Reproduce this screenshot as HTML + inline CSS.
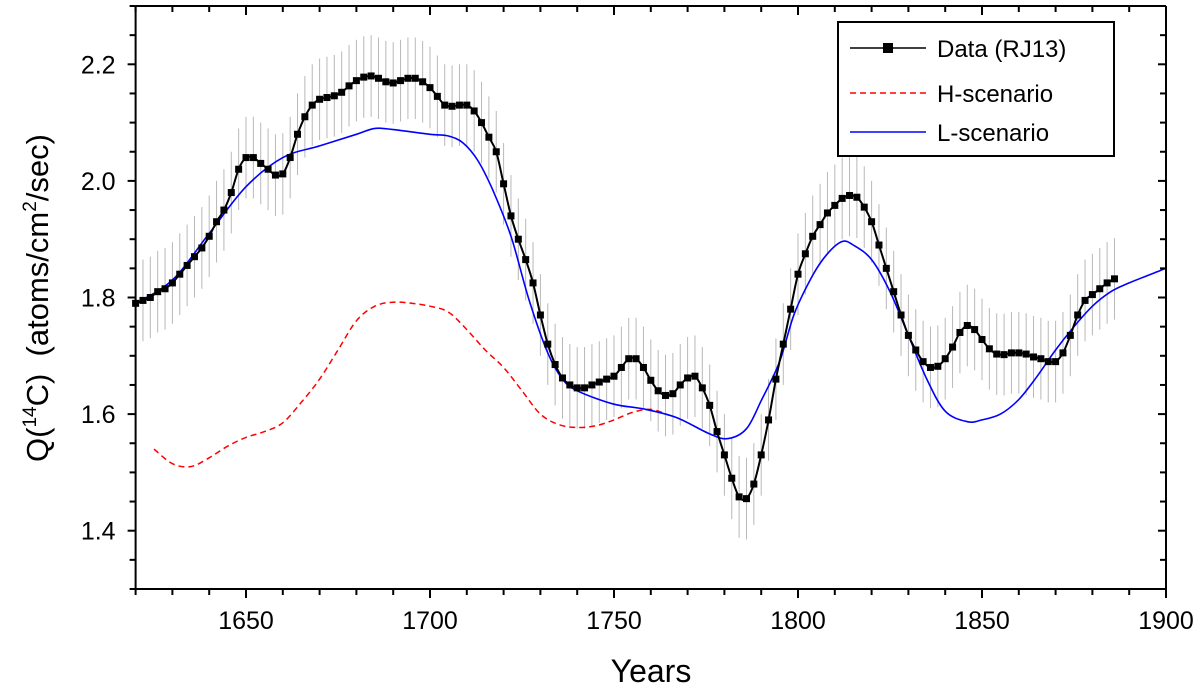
<!DOCTYPE html>
<html><head><meta charset="utf-8"><style>
html,body{margin:0;padding:0;background:#fff;}
svg{display:block;font-family:"Liberation Sans",Arial,sans-serif;}
</style></head><body>
<svg id="chart" width="1200" height="688" viewBox="0 0 1200 688" xmlns="http://www.w3.org/2000/svg">
<g id="plot"></g>
<text x="651" y="682" font-size="32" text-anchor="middle">Years</text>
<text xml:space="preserve" transform="translate(48,298) rotate(-90)" font-size="31" text-anchor="middle">Q(<tspan font-size="19" dy="-12">14</tspan><tspan dy="12">C)  (atoms/cm</tspan><tspan font-size="19" dy="-12">2</tspan><tspan dy="12">/sec)</tspan></text>
<g>
<rect x="838" y="22" width="276" height="134" fill="#fff" stroke="#000" stroke-width="2"/>
<g><line x1="850" y1="48" x2="926" y2="48" stroke="#000" stroke-width="1.5"/><rect x="883" y="43" width="10" height="10" fill="#000"/><text x="937" y="57" font-size="24">Data (RJ13)</text></g>
<g><line x1="850" y1="93" x2="926" y2="93" stroke="#f00" stroke-width="1.5" stroke-dasharray="6,4"/><text x="937" y="102" font-size="24">H-scenario</text></g>
<g><line x1="850" y1="132" x2="926" y2="132" stroke="#00f" stroke-width="1.5"/><text x="937" y="141" font-size="24">L-scenario</text></g>
</g>
</svg>
<script>
const dataStartYear = 1620;
const dataStep = 2;
const dataValues = [1.79,1.795,1.80,1.81,1.815,1.825,1.84,1.855,1.87,1.885,1.905,1.93,1.95,1.98,2.02,2.04,2.04,2.03,2.02,2.01,2.012,2.04,2.08,2.11,2.13,2.14,2.143,2.146,2.152,2.163,2.172,2.178,2.18,2.176,2.17,2.168,2.172,2.176,2.176,2.17,2.16,2.145,2.13,2.128,2.13,2.13,2.12,2.1,2.075,2.05,1.995,1.94,1.90,1.865,1.825,1.77,1.72,1.685,1.662,1.65,1.645,1.645,1.65,1.655,1.66,1.665,1.68,1.695,1.695,1.68,1.658,1.64,1.632,1.635,1.65,1.662,1.665,1.645,1.615,1.57,1.53,1.49,1.458,1.455,1.48,1.53,1.59,1.66,1.72,1.78,1.84,1.875,1.905,1.925,1.945,1.958,1.97,1.975,1.972,1.955,1.93,1.89,1.85,1.81,1.77,1.735,1.71,1.69,1.68,1.682,1.695,1.715,1.74,1.752,1.745,1.728,1.712,1.703,1.702,1.705,1.705,1.703,1.698,1.695,1.69,1.69,1.705,1.735,1.77,1.795,1.805,1.815,1.825,1.832];
const dataError = 0.07;
const lYears = [1620,1630,1640,1650,1660,1670,1680,1685,1690,1700,1705,1709,1713,1717,1722,1727,1732,1736,1740,1750,1758,1767,1776,1781,1786,1790,1795,1799,1804,1808,1812,1815,1820,1825,1830,1835,1840,1846,1850,1855,1860,1865,1870,1875,1880,1885,1890,1900];
const lValues = [1.79,1.83,1.91,1.99,2.04,2.06,2.08,2.09,2.088,2.08,2.077,2.065,2.035,1.985,1.905,1.794,1.705,1.66,1.64,1.617,1.609,1.594,1.566,1.558,1.575,1.623,1.69,1.772,1.838,1.875,1.896,1.89,1.865,1.81,1.735,1.66,1.605,1.587,1.59,1.60,1.625,1.665,1.71,1.75,1.785,1.81,1.825,1.85];
const hYears = [1625,1630,1635,1640,1645,1650,1655,1660,1665,1670,1675,1680,1685,1690,1695,1700,1705,1710,1715,1720,1725,1730,1735,1740,1745,1750,1755,1760,1765];
const hValues = [1.54,1.515,1.51,1.525,1.545,1.56,1.57,1.585,1.62,1.66,1.71,1.76,1.785,1.792,1.79,1.785,1.775,1.745,1.71,1.68,1.64,1.6,1.582,1.577,1.58,1.59,1.603,1.608,1.598];
const xTicks = [1650,1700,1750,1800,1850,1900];
const yTicks = [1.4,1.6,1.8,2.0,2.2];

const X0=135.6,X1=1166,XMIN=1620,XMAX=1900,Y0=589,Y1=6,YMIN=1.3,YMAX=2.3;
const sx=v=>X0+(v-XMIN)/(XMAX-XMIN)*(X1-X0);
const sy=v=>Y0-(v-YMIN)/(YMAX-YMIN)*(Y0-Y1);
const NS='http://www.w3.org/2000/svg';
const plot=document.getElementById('plot');
function mk(tag,attrs,parent){const e=document.createElementNS(NS,tag);for(const k in attrs)e.setAttribute(k,attrs[k]);(parent||plot).appendChild(e);return e;}
function smooth(pts){let d='M'+pts[0][0].toFixed(1)+','+pts[0][1].toFixed(1);
 for(let i=0;i<pts.length-1;i++){const p0=pts[Math.max(i-1,0)],p1=pts[i],p2=pts[i+1],p3=pts[Math.min(i+2,pts.length-1)];
 const c1=[p1[0]+(p2[0]-p0[0])/6,p1[1]+(p2[1]-p0[1])/6],c2=[p2[0]-(p3[0]-p1[0])/6,p2[1]-(p3[1]-p1[1])/6];
 d+='C'+c1[0].toFixed(1)+','+c1[1].toFixed(1)+' '+c2[0].toFixed(1)+','+c2[1].toFixed(1)+' '+p2[0].toFixed(1)+','+p2[1].toFixed(1);}return d;}

const eg=mk('g',{});


dataValues.forEach((v,i)=>{const x=sx(dataStartYear+i*dataStep);
 const l=mk('line',{x1:x,x2:x,y1:sy(v+dataError),y2:sy(v-dataError),stroke:'#b8b8b8','stroke-width':1},eg);
 
 
});
const hp=mk('path',{d:smooth(hYears.map((y,i)=>[sx(y),sy(hValues[i])])),fill:'none',stroke:'#f00','stroke-width':1.5,'stroke-dasharray':'6,4'});


const lp=mk('path',{d:smooth(lYears.map((y,i)=>[sx(y),sy(lValues[i])])),fill:'none',stroke:'#00f','stroke-width':1.6});


const dp=mk('path',{d:smooth(dataValues.map((v,i)=>[sx(dataStartYear+i*dataStep),sy(v)])),fill:'none',stroke:'#000','stroke-width':2});


const mg=mk('g',{});


dataValues.forEach((v,i)=>{const x=sx(dataStartYear+i*dataStep),y=sy(v);
 const r=mk('rect',{x:x-3.5,y:y-3.5,width:7,height:7,fill:'#000'},mg);
 
 
});
const ax=mk('g',{stroke:'#000','stroke-width':2});


mk('line',{x1:X0,x2:X1,y1:Y0,y2:Y0},ax);
mk('line',{x1:X0,x2:X1,y1:Y1,y2:Y1},ax);
mk('line',{x1:X0,x2:X0,y1:Y1,y2:Y0},ax);
mk('line',{x1:X1,x2:X1,y1:Y1,y2:Y0},ax);
for(let yr=1620;yr<=1900;yr+=10){const x=sx(yr);const maj=yr%50===0;
 mk('line',{x1:x,x2:x,y1:Y0,y2:Y0+(maj?9:6)},ax);
 mk('line',{x1:x,x2:x,y1:Y1,y2:Y1+(maj?9:6)},ax);}
for(let k=0;k<=20;k++){const v=1.3+k*0.05;const y=sy(v);const r=Math.round(v*100);const maj=r%20===0;
 mk('line',{x1:X0,x2:X0-(maj?8:6),y1:y,y2:y},ax);
 mk('line',{x1:X1,x2:X1-(maj?8:6),y1:y,y2:y},ax);}
xTicks.forEach(t=>{const e=mk('text',{x:sx(t),y:629,'font-size':25,'text-anchor':'middle'});e.textContent=t;
 
 });
yTicks.forEach(t=>{const e=mk('text',{x:X0-20,y:sy(t)+9,'font-size':25,'text-anchor':'end'});e.textContent=t.toFixed(1);
 
 });
</script>
</body></html>
